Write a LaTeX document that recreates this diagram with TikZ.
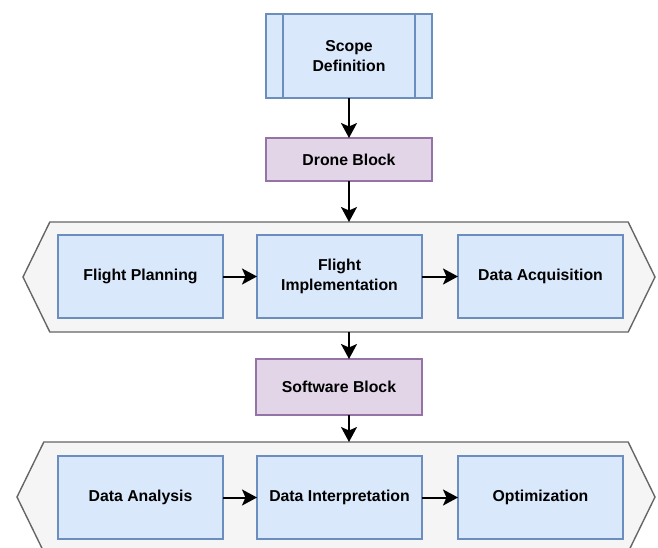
\documentclass[tikz,border=0pt]{standalone}
\usepackage{fontspec}
\setmainfont{Liberation Sans}
\usetikzlibrary{arrows.meta, positioning, shapes.symbols}

\definecolor{taskfill}{HTML}{DAE8FC}
\definecolor{taskline}{HTML}{6C8EBF}
\definecolor{blockfill}{HTML}{E1D5E7}
\definecolor{blockline}{HTML}{9673A6}
\definecolor{stagefill}{HTML}{F5F5F5}
\definecolor{stageline}{HTML}{666666}

\tikzset{
    label text/.style={font=\fontsize{15.8}{20.5}\selectfont\bfseries, align=center, outer sep=0pt},
    task/.style={label text, draw=taskline, fill=taskfill, line width=1.4pt, minimum width=165pt, minimum height=83pt},
    block/.style={label text, draw=blockline, fill=blockfill, line width=1.4pt, minimum width=166pt},
    stage/.style={draw=stageline, fill=stagefill, line width=1.4pt, signal, signal to=west and east, signal pointer angle=128, minimum height=110pt, outer sep=0pt},
}

\begin{document}
\begin{tikzpicture}[x=1pt, y=1pt, node distance=35pt, >={Stealth[length=15pt, width=16pt, inset=3.5pt]}]

    \useasboundingbox (0,0) rectangle (658,547);
    \clip (0,0) rectangle (658,547);

    % Nodes
    \node [task, minimum width=166pt, minimum height=84pt] (scope) at (349,491) {Scope\\Definition};
    \draw [taskline, line width=1.4pt] ([xshift=17pt]scope.north west) -- ([xshift=17pt]scope.south west);
    \draw [taskline, line width=1.4pt] ([xshift=-17pt]scope.north east) -- ([xshift=-17pt]scope.south east);
    \node [block, minimum height=43pt, below=40pt of scope] (drone) {Drone Block};

    \node [stage, minimum width=632pt] (stage1) at (339,270) {}; % drone stage
    \node [task] (impl) at (339.5,270.5) {Flight\\Implementation};
    \node [task, left=34pt of impl] (plan) {Flight Planning};
    \node [task, right=36pt of impl] (acq) {Data Acquisition};

    \node [block, minimum height=56pt, below=27pt of stage1] (soft) {Software Block};

    \node [stage, minimum width=638pt] (stage2) at (336,50) {}; % software stage
    \node [task] (interp) at (339.5,49.5) {Data Interpretation};
    \node [task, left=34pt of interp] (analysis) {Data Analysis};
    \node [task, right=36pt of interp] (optim) {Optimization};

    % Arrows
    \begin{scope}[line width=2pt]
    \draw[->] (scope) -- (drone);
    \draw[->] (drone) -- (drone |- stage1.north);
    \draw[->] (drone |- stage1.south) -- (drone |- soft.north);
    \draw[->] (drone |- soft.south) -- (drone |- stage2.north);

    \draw[->] (plan) -- (impl);
    \draw[->] (impl) -- (acq);
    \draw[->] (analysis) -- (interp);
    \draw[->] (interp) -- (optim);
    \end{scope}

\end{tikzpicture}
\end{document}
